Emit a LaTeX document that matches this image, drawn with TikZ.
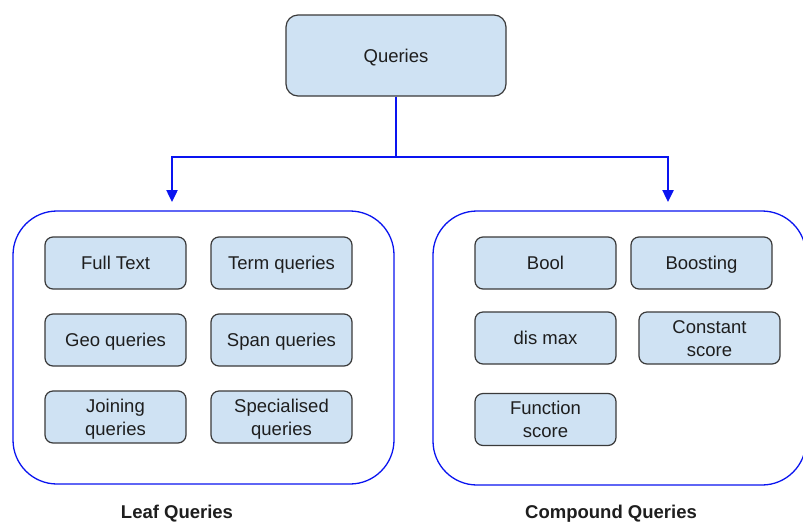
\documentclass[tikz,border=0pt]{standalone}
\usepackage{fontspec}
\setmainfont{Liberation Sans}
\usetikzlibrary{arrows.meta}
\definecolor{boxfill}{HTML}{CFE2F3}
\definecolor{boxline}{HTML}{3A3A3A}
\definecolor{linkblue}{HTML}{0A14F0}
\definecolor{txt}{HTML}{1E1E1E}
\tikzset{
  item/.style={draw=boxline, line width=1.2pt, fill=boxfill, rounded corners=8pt,
    minimum width=141pt, minimum height=52pt, inner sep=0pt, align=center,
    text=txt, font=\fontsize{18.5}{23}\selectfont},
  oneline/.style={text height=13.3pt, text depth=0pt},
  twoline/.style={text height=36.3pt, text depth=0pt},
  rootbox/.style={item, oneline, rounded corners=12pt, minimum width=220pt, minimum height=81pt},
  group/.style={draw=linkblue, line width=1.3pt, rounded corners=44pt, inner sep=0pt},
  conn/.style={draw=linkblue, line width=2.4pt, line join=miter,
    -{Triangle[width=11pt,length=12pt]}},
  caption/.style={font=\fontsize{18.5}{22}\selectfont\bfseries, text=txt}
}
\begin{document}
\begin{tikzpicture}[x=1pt,y=-1pt]
\clip (0,0) rectangle (803,523);
\fill[white] (0,0) rectangle (803,523);

% root
\node[rootbox] (q) at (396,55.5) {Queries};

% the two groups
\draw[group] (13,211) rectangle (394,484);
\draw[group] (433,211) rectangle (806,485);

% branch points and arrow ends
\coordinate (jL) at (172,157);
\coordinate (jR) at (668,157);
\coordinate (tL) at (172,202);
\coordinate (tR) at (668,202);
\draw[conn] (q.south) |- (jL) -- (tL);
\draw[conn] (q.south) |- (jR) -- (tR);

% leaf queries
\node[item,oneline] (ft)  at (115.5,263) {Full Text};
\node[item,oneline] (tq)  at (281.5,263) {Term queries};
\node[item,oneline] (geo) at (115.5,340) {Geo queries};
\node[item,oneline] (sp)  at (281.5,340) {Span queries};
\node[item,twoline] (jq)  at (115.5,417) {Joining\\queries};
\node[item,twoline] (spc) at (281.5,417) {Specialised\\queries};

% compound queries
\node[item,oneline] (bool) at (545.5,263) {Bool};
\node[item,oneline] (bst)  at (701.5,263) {Boosting};
\node[item,oneline] (dm)   at (545.5,338) {dis max};
\node[item,twoline] (cs)   at (709.5,338) {Constant\\score};
\node[item,twoline] (fs)   at (545.5,419.5) {Function\\score};

% captions
\node[caption] (lq) at (177,514) {Leaf Queries};
\node[caption] (cq) at (611,514) {Compound Queries};
\end{tikzpicture}
\end{document}
